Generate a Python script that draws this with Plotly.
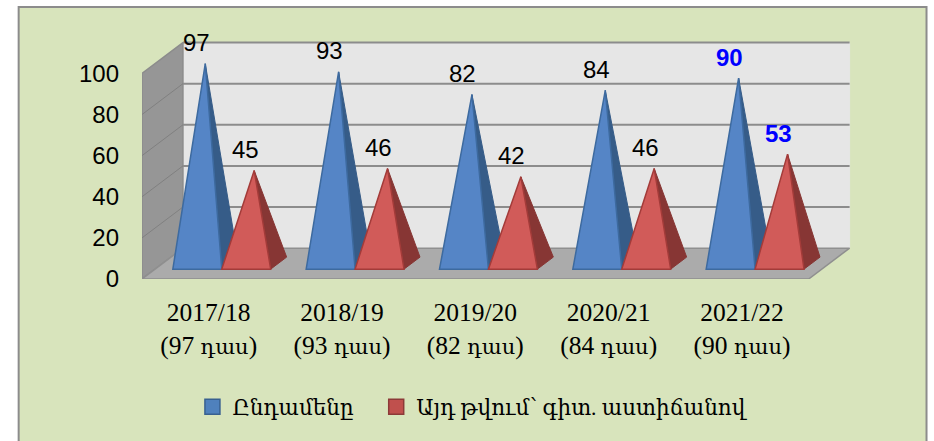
import plotly.graph_objects as go

# ---- data ----
years = ["2017/18", "2018/19", "2019/20", "2020/21", "2021/22"]
counts = ["97", "93", "82", "84", "90"]
unit = "դաս"
total = [97, 93, 82, 84, 90]
with_degree = [45, 46, 42, 46, 53]
series_names = ["Ընդամենը", "Այդ թվում՝ գիտ. աստիճանով"]
y_ticks = [0, 20, 40, 60, 80, 100]

# ---- style / geometry ----
W, H = 934, 441
L, B = 141.5, 279
PX_PER_CAT, PX_PER_VAL = 133.5, 2.06
DX, DY = 0.307, 15.0      # axis-unit shift across the full floor depth
HALF = 0.367              # pyramid base width in category units
D0, D1 = 0.32, 0.71       # base depth span
X0, X1 = -0.5, 4.5        # category span of the floor
XMAX, YMAX = 4.9, 125     # axis ranges run past the box so the 3D depth is not clipped
R = L + (XMAX - X0) * PX_PER_CAT
T = B - YMAX * PX_PER_VAL
SANS = "Liberation Sans, sans-serif"
SERIF = "Liberation Serif, DejaVu Serif, serif"

def P(c, v, d):
    return c + DX * d, v + DY * d

def poly(points):
    xs, ys = zip(*points)
    return list(xs) + [xs[0]], list(ys) + [ys[0]]

def add_poly(fig, polys, fill, edge, width=1):
    xs, ys = [], []
    for p in polys:
        a, b = poly(p)
        xs += a + [None]
        ys += b + [None]
    fig.add_trace(go.Scatter(x=xs, y=ys, mode="lines", fill="toself", fillcolor=fill, cliponaxis=False,
                             line=dict(color=edge, width=width), hoverinfo="skip", showlegend=False))

def add_lines(fig, segs, color, width):
    xs, ys = [], []
    for a, b in segs:
        xs += [a[0], b[0], None]
        ys += [a[1], b[1], None]
    fig.add_trace(go.Scatter(x=xs, y=ys, mode="lines", line=dict(color=color, width=width), cliponaxis=False,
                             hoverinfo="skip", showlegend=False))

fig = go.Figure()
# walls and floor
add_poly(fig, [[P(X0, 0, 1), P(X1, 0, 1), P(X1, 100, 1), P(X0, 100, 1)]], "#E6E6E6", "#E6E6E6")
add_poly(fig, [[P(X0, 0, 0), P(X0, 0, 1), P(X0, 100, 1), P(X0, 100, 0)]], "#969696", "#8C8C8C", 1.5)
add_poly(fig, [[P(X0, 0, 0), P(X1, 0, 0), P(X1, 0, 1), P(X0, 0, 1)]], "#ABABAB", "#8F8F8F", 1.5)
add_lines(fig, [(P(X0, v, 1), P(X1, v, 1)) for v in y_ticks[1:]], "#8C8C8C", 2)
add_lines(fig, [(P(X0, v, 0), P(X0, v, 1)) for v in y_ticks[1:-1]], "#808080", 1)

def pyramids(values, off, front, side, edge):
    fronts, sides = [], []
    for i, v in enumerate(values):
        l, r = i + off, i + off + HALF
        apex = P((l + r) / 2, v, (D0 + D1) / 2)
        fronts.append([apex, P(l, 0, D0), P(r, 0, D0)])
        sides.append([apex, P(r, 0, D0), P(r, 0, D1)])
    add_poly(fig, sides, side, side)
    add_poly(fig, fronts, front, edge, 1.5)

pyramids(total, -HALF, "#5585C6", "#365C88", "#3D6A9F")
pyramids(with_degree, 0, "#D15B59", "#873634", "#A33B39")

# legend entries
for name, col, edge, lg in [(series_names[0], "#4F81BD", "#386090", "legend"),
                            (series_names[1], "#C0504D", "#8C3A38", "legend2")]:
    fig.add_trace(go.Scatter(x=[None], y=[None], mode="markers", name=name, legend=lg,
                             marker=dict(symbol="square", size=15, color=col, line=dict(color=edge, width=1.5))))

# data labels
anns = []
for off, vals in [(-HALF / 2, total), (HALF / 2, with_degree)]:
    for i, v in enumerate(vals):
        hi = i == len(vals) - 1
        x, y = P(i + off, v, (D0 + D1) / 2)
        anns.append(dict(x=x, y=y, xref="x", yref="y", text=f"<b>{v}</b>" if hi else str(v), showarrow=False,
                         xanchor="center", yanchor="middle", xshift=-9, yshift=21,
                         font=dict(family=SANS, size=24, color="#0000FF" if hi else "#000000")))

px = lambda x: (x - L) / (R - L)
py = lambda y: (B - y) / (B - T)
ticktext = [f"{a}<br>({c} <span style='font-size:21px'>{unit}</span>)" for a, c in zip(years, counts)]
legend_font = dict(family=SERIF, size=21.5, color="#000000")
fig.update_layout(
    width=W, height=H, autosize=False,
    margin=dict(l=L, r=W - R, t=T, b=H - B, pad=0),
    paper_bgcolor="#FFFFFF", plot_bgcolor="rgba(0,0,0,0)",
    annotations=anns,
    shapes=[dict(type="rect", xref="paper", yref="paper", layer="below",
                 x0=px(18), x1=px(927), y0=py(6.5), y1=py(446),
                 fillcolor="#D8E4BC", line=dict(color="#8C8C8C", width=2))],
    xaxis=dict(range=[X0, XMAX], tickmode="array", tickvals=list(range(5)), ticktext=ticktext,
               showgrid=False, zeroline=False, showline=False, ticks="", ticklabelstandoff=15,
               tickfont=dict(family=SERIF, size=25.5, color="#000000")),
    yaxis=dict(range=[0, YMAX], tickmode="array", tickvals=y_ticks, showgrid=False, zeroline=False,
               showline=False, ticks="", ticklabelstandoff=22,
               tickfont=dict(family=SANS, size=24, color="#000000")),
    legend=dict(orientation="h", x=px(192), y=py(407), xanchor="left", yanchor="middle",
                bgcolor="rgba(0,0,0,0)", font=legend_font),
    legend2=dict(orientation="h", x=px(376), y=py(407), xanchor="left", yanchor="middle",
                 bgcolor="rgba(0,0,0,0)", font=legend_font),
    showlegend=True,
)
fig.write_html("out.html", config={"displayModeBar": False}, post_script="document.body.style.margin='0';")
